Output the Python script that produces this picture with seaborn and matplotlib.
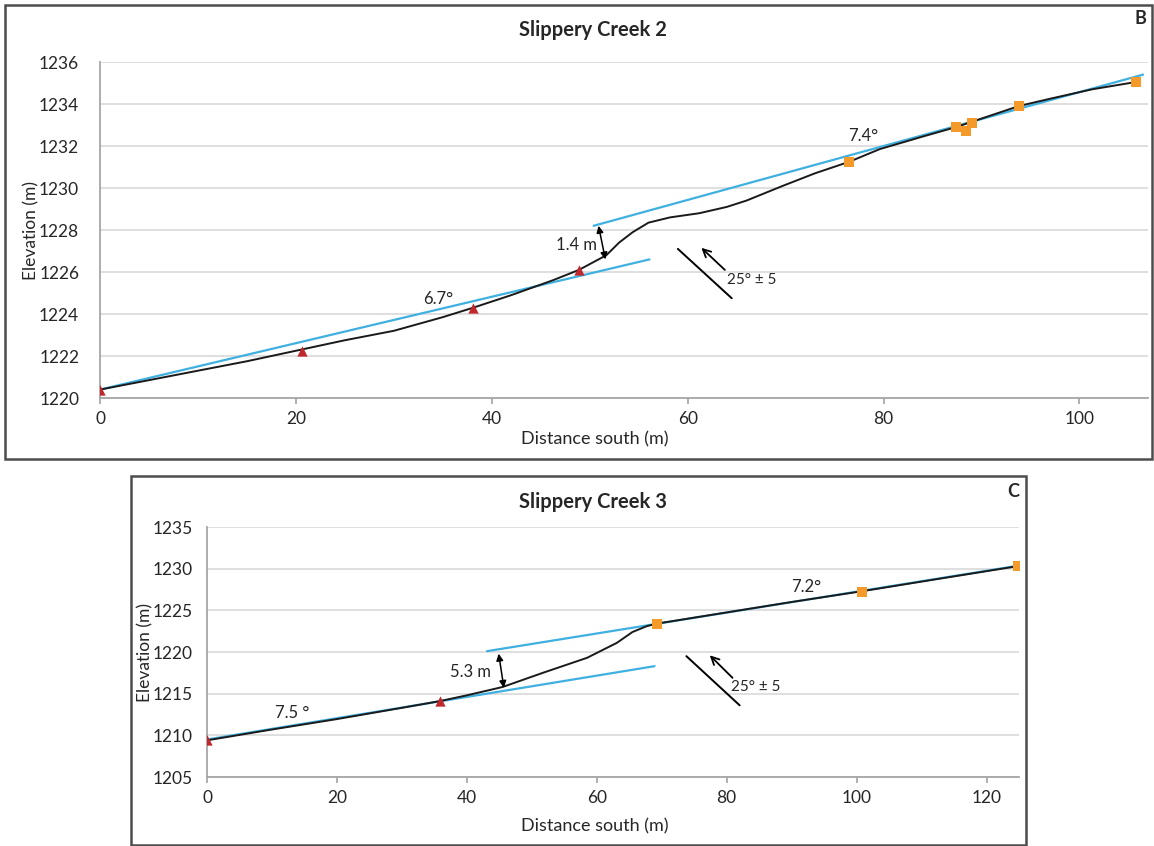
# Slippery Creek 2 and 3: elevation profiles with fitted slopes
import matplotlib
matplotlib.use("Agg")
import matplotlib.pyplot as plt
from matplotlib.patches import Rectangle
import seaborn as sns

# ---------------- data: Slippery Creek 2 (panel B) ----------------
sc2_profile_x = [0, 5, 10, 15, 20, 25, 30, 35, 38.1, 42, 46.2, 48.9, 51.7, 53, 54.4,
                 56, 58.2, 61.2, 64, 66, 69.7, 73, 76.5, 79.6, 84, 87.4, 89,
                 93.8, 97, 101.3, 105.8]
sc2_profile_y = [1220.4, 1220.85, 1221.3, 1221.75, 1222.25, 1222.75, 1223.2, 1223.85, 1224.3,
                 1224.9, 1225.6, 1226.1, 1226.8, 1227.4, 1227.9,
                 1228.35, 1228.6, 1228.8, 1229.1, 1229.4, 1230.1, 1230.7, 1231.25, 1231.85, 1232.45,
                 1232.9, 1233.15, 1233.9, 1234.25, 1234.7, 1235.05]
sc2_tri_x = [0, 20.6, 38.1, 48.9]
sc2_tri_y = [1220.4, 1222.25, 1224.3, 1226.1]
sc2_sq_x = [76.5, 87.4, 88.4, 89.0, 93.8, 105.8]
sc2_sq_y = [1231.25, 1232.9, 1232.7, 1233.1, 1233.9, 1235.05]
sc2_fit_low_x = [0, 56.1]
sc2_fit_low_y = [1220.4, 1226.6]
sc2_fit_up_x = [50.4, 106.5]
sc2_fit_up_y = [1228.2, 1235.4]

# ---------------- data: Slippery Creek 3 (panel C) ----------------
sc3_profile_x = [0, 10, 20, 30, 35.8, 40, 45.5, 51.7, 58.5, 63.1, 65.5, 67.7, 69.2,
                 80, 90, 100.9, 112, 124.8]
sc3_profile_y = [1209.4, 1210.7, 1211.95, 1213.3, 1214.1, 1214.8, 1215.8, 1217.5, 1219.3,
                 1221.1, 1222.4, 1223.1, 1223.4,
                 1224.75, 1226.0, 1227.3, 1228.7, 1230.3]
sc3_tri_x = [0, 35.8]
sc3_tri_y = [1209.4, 1214.1]
sc3_sq_x = [69.2, 100.9, 124.8]
sc3_sq_y = [1223.4, 1227.25, 1230.3]
sc3_fit_low_x = [0, 68.9]
sc3_fit_low_y = [1209.5, 1218.3]
sc3_fit_up_x = [43.1, 124.8]
sc3_fit_up_y = [1220.1, 1230.35]

BLUE = "#3fb0e0"
RED = "#c0282d"
ORANGE = "#f39a2b"
LINE = "#1a1a1a"

sns.set_theme(style="white")
plt.rcParams["font.family"] = ["Lato", "DejaVu Sans"]

fig = plt.figure(figsize=(11.54, 8.46), dpi=100)
W, H = 1154, 846


def fpos(x0, y0, x1, y1):
    # pixel box (top-left origin) -> figure fraction [left, bottom, width, height]
    return [x0 / W, 1 - y1 / H, (x1 - x0) / W, (y1 - y0) / H]


def style_axes(ax, xlim, ylim, yticks, ypad):
    ax.set_xlim(*xlim)
    ax.set_ylim(*ylim)
    ax.set_yticks(yticks)
    ax.grid(axis="y", color="#d9d9d9", linewidth=1.2)
    ax.set_axisbelow(True)
    for s in ["top", "right"]:
        ax.spines[s].set_visible(False)
    for s in ["left", "bottom"]:
        ax.spines[s].set_color("#a6a6a6")
        ax.spines[s].set_linewidth(1.3)
    ax.tick_params(axis="x", length=4, color="#a6a6a6", labelsize=12.5, pad=5, direction="out", bottom=True)
    ax.tick_params(axis="y", length=0, labelsize=12.5, pad=ypad)
    ax.set_xlabel("")
    ax.set_ylabel("")


def draw_panel(ax, prof_x, prof_y, tri_x, tri_y, sq_x, sq_y, low_x, low_y, up_x, up_y):
    sns.lineplot(x=low_x, y=low_y, ax=ax, color=BLUE, linewidth=1.6, sort=False, estimator=None)
    sns.lineplot(x=up_x, y=up_y, ax=ax, color=BLUE, linewidth=1.6, sort=False, estimator=None)
    sns.lineplot(x=prof_x, y=prof_y, ax=ax, color=LINE, linewidth=1.4, sort=False, estimator=None)
    sns.scatterplot(x=tri_x, y=tri_y, ax=ax, marker="^", color=RED, s=55, linewidth=0, zorder=5)
    sns.scatterplot(x=sq_x, y=sq_y, ax=ax, marker="s", color=ORANGE, s=50, linewidth=0, zorder=5)


# ---------------- panel B ----------------
fig.add_artist(Rectangle((5 / W, 1 - 459 / H), 1147 / W, 454 / H, transform=fig.transFigure,
                         fill=False, edgecolor="#4d4d4d", linewidth=1.8))
ax1 = fig.add_axes(fpos(100, 62, 1148, 398))
draw_panel(ax1, sc2_profile_x, sc2_profile_y, sc2_tri_x, sc2_tri_y, sc2_sq_x, sc2_sq_y,
           sc2_fit_low_x, sc2_fit_low_y, sc2_fit_up_x, sc2_fit_up_y)
style_axes(ax1, (0, 107), (1220, 1236), range(1220, 1237, 2), ypad=15)
ax1.set_xticks([0, 20, 40, 60, 80, 100])

ax1.annotate("", xy=(51.6, 1226.6), xytext=(50.9, 1228.2),
             arrowprops=dict(arrowstyle="<|-|>", color="black", lw=1.1, mutation_scale=10,
                             shrinkA=0, shrinkB=0))
ax1.text(48.7, 1227.3, "1.4 m", fontsize=12, ha="center", va="center")
ax1.text(34.5, 1224.7, "6.7°", fontsize=12, ha="center", va="center")
ax1.text(77.9, 1232.5, "7.4°", fontsize=12, ha="center", va="center")
ax1.plot([59.0, 64.5], [1227.1, 1224.75], color="black", linewidth=1.4)
ax1.annotate("", xy=(61.4, 1227.15), xytext=(63.8, 1226.1),
             arrowprops=dict(arrowstyle="->", color="black", lw=1.3, mutation_scale=14,
                             shrinkA=0, shrinkB=0))
ax1.text(64.0, 1225.6, "25° ± 5", fontsize=11, ha="left", va="center")

fig.text(593 / W, 1 - 30 / H, "Slippery Creek 2", fontsize=14.5, fontweight="bold", ha="center", va="center")
fig.text(1140 / W, 1 - 18 / H, "B", fontsize=13, fontweight="bold", ha="center", va="center")
fig.text(595 / W, 1 - 439 / H, "Distance south (m)", fontsize=13, ha="center", va="center")
fig.text(31 / W, 1 - 230 / H, "Elevation (m)", fontsize=12.5, rotation=90, ha="center", va="center")

# ---------------- panel C ----------------
fig.add_artist(Rectangle((131 / W, 1 - 845 / H), 895 / W, 369 / H, transform=fig.transFigure,
                         fill=False, edgecolor="#4d4d4d", linewidth=1.8))
ax2 = fig.add_axes(fpos(207, 527, 1019, 777))
draw_panel(ax2, sc3_profile_x, sc3_profile_y, sc3_tri_x, sc3_tri_y, sc3_sq_x, sc3_sq_y,
           sc3_fit_low_x, sc3_fit_low_y, sc3_fit_up_x, sc3_fit_up_y)
style_axes(ax2, (0, 125), (1205, 1235), range(1205, 1236, 5), ypad=10)
ax2.set_xticks([0, 20, 40, 60, 80, 100, 120])

ax2.annotate("", xy=(45.7, 1215.7), xytext=(44.9, 1219.8),
             arrowprops=dict(arrowstyle="<|-|>", color="black", lw=1.1, mutation_scale=10,
                             shrinkA=0, shrinkB=0))
ax2.text(40.5, 1217.6, "5.3 m", fontsize=12, ha="center", va="center")
ax2.text(13.1, 1212.7, "7.5 °", fontsize=12, ha="center", va="center")
ax2.text(92.3, 1227.8, "7.2°", fontsize=12, ha="center", va="center")
ax2.plot([73.8, 82.0], [1219.5, 1213.6], color="black", linewidth=1.4)
ax2.annotate("", xy=(77.4, 1219.6), xytext=(80.9, 1216.9),
             arrowprops=dict(arrowstyle="->", color="black", lw=1.3, mutation_scale=14,
                             shrinkA=0, shrinkB=0))
ax2.text(80.7, 1215.8, "25° ± 5", fontsize=11, ha="left", va="center")

fig.text(593 / W, 1 - 502 / H, "Slippery Creek 3", fontsize=14.5, fontweight="bold", ha="center", va="center")
fig.text(1013 / W, 1 - 491 / H, "C", fontsize=13, fontweight="bold", ha="center", va="center")
fig.text(595 / W, 1 - 826 / H, "Distance south (m)", fontsize=13, ha="center", va="center")
fig.text(145 / W, 1 - 653 / H, "Elevation (m)", fontsize=12.5, rotation=90, ha="center", va="center")

plt.savefig("out.png", dpi=100)
plt.close()
